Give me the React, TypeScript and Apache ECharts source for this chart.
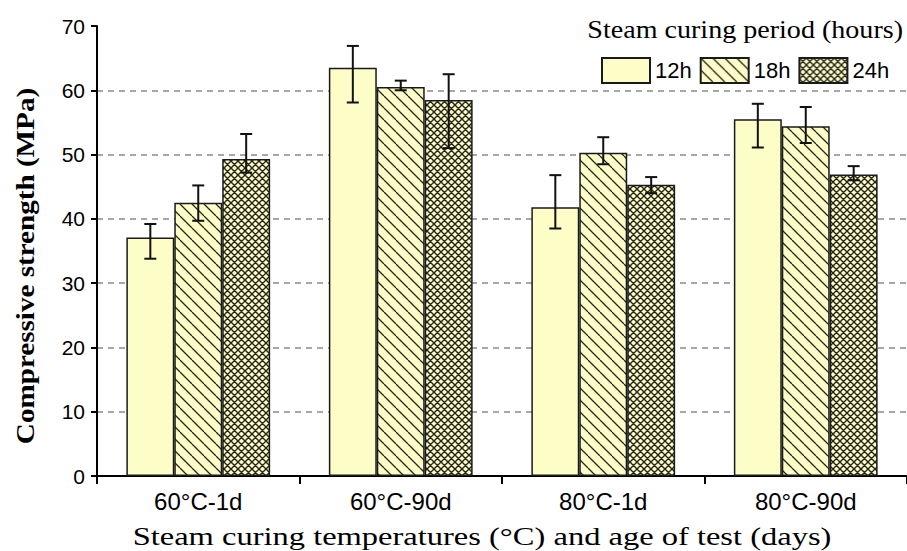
import React, { useEffect, useRef } from "react";
import * as echarts from "echarts";

const categories = ["60°C-1d", "60°C-90d", "80°C-1d", "80°C-90d"];
const seriesNames = ["12h", "18h", "24h"];
const values12 = [37.1, 63.5, 41.8, 55.5];
const low12 = [33.8, 58.1, 38.5, 51.1];
const high12 = [39.2, 66.9, 46.8, 57.9];
const values18 = [42.5, 60.5, 50.3, 54.4];
const low18 = [39.7, 60.0, 48.5, 51.8];
const high18 = [45.2, 61.5, 52.7, 57.4];
const values24 = [49.3, 58.5, 45.3, 46.9];
const low24 = [47.2, 51.0, 44.0, 46.0];
const high24 = [53.2, 62.5, 46.5, 48.2];
const yTicks = [0, 10, 20, 30, 40, 50, 60, 70];

const BASE = "#FDFDC8";
const CAT_GAP = 0.29;

function makeHatch(size: number, cross: boolean, lw: number) {
  const c = document.createElement("canvas");
  c.width = size;
  c.height = size;
  const ctx = c.getContext("2d")!;
  ctx.fillStyle = BASE;
  ctx.fillRect(0, 0, size, size);
  ctx.strokeStyle = "#26261e";
  ctx.lineWidth = lw;
  ctx.beginPath();
  for (const k of [-1, 0, 1]) {
    ctx.moveTo(k * size, 0);
    ctx.lineTo(k * size + size, size);
    if (cross) {
      ctx.moveTo(k * size + size, 0);
      ctx.lineTo(k * size, size);
    }
  }
  ctx.stroke();
  return c;
}

export default function App() {
  const ref = useRef<HTMLDivElement>(null);
  useEffect(() => {
    if (!ref.current) return;
    const chart = echarts.init(ref.current, undefined, { renderer: "svg" });
    const hatch18 = makeHatch(12, false, 1.3);
    const hatch24 = makeHatch(7, true, 1.4);
    const fills: any[] = [
      BASE,
      { image: hatch18, repeat: "repeat" },
      { image: hatch24, repeat: "repeat" },
    ];
    const vals = [values12, values18, values24];
    const lows = [low12, low18, low24];
    const highs = [high12, high18, high24];

    const barSeries = seriesNames.map((name, i) => ({
      name,
      type: "bar",
      data: vals[i],
      barGap: "0%",
      barCategoryGap: CAT_GAP * 100 + "%",
      itemStyle: { color: fills[i], borderColor: "#1a1a1a", borderWidth: 1.5 },
      z: 2,
    }));

    const errSeries = seriesNames.map((name, i) => ({
      name: name + "-err",
      type: "custom",
      z: 5,
      data: categories.map((_, j) => [j, lows[i][j], highs[i][j]]),
      renderItem: (params: any, api: any) => {
        const cat = api.value(0);
        const base = api.coord([cat, 0]);
        const band = api.size([1, 0])[0];
        const barW = (band * (1 - CAT_GAP)) / 3;
        const cx = base[0] + (i - 1) * barW;
        const yl = api.coord([cat, api.value(1)])[1];
        const yh = api.coord([cat, api.value(2)])[1];
        const cap = 6;
        const st = { stroke: "#111", lineWidth: 2 };
        return {
          type: "group",
          children: [
            { type: "line", shape: { x1: cx, y1: yl, x2: cx, y2: yh }, style: st },
            { type: "line", shape: { x1: cx - cap, y1: yl, x2: cx + cap, y2: yl }, style: st },
            { type: "line", shape: { x1: cx - cap, y1: yh, x2: cx + cap, y2: yh }, style: st },
          ],
        };
      },
    }));

    chart.setOption({
      animation: false,
      grid: { left: 97, top: 26, right: -5, bottom: 75 },
      legend: {
        data: seriesNames,
        left: 601,
        top: 57,
        padding: 0,
        itemWidth: 48,
        itemHeight: 25,
        itemGap: 8,
        icon: "rect",
        textStyle: { fontSize: 22, fontFamily: "Liberation Sans", color: "#000" },
      },
      xAxis: {
        type: "category",
        data: categories,
        axisLine: { lineStyle: { color: "#000", width: 2 } },
        axisTick: { show: true, length: 8, lineStyle: { color: "#000", width: 2 } },
        axisLabel: { fontSize: 24, fontFamily: "Liberation Sans", color: "#000", margin: 13 },
      },
      yAxis: {
        type: "value",
        min: yTicks[0],
        max: yTicks[yTicks.length - 1],
        interval: 10,
        axisLine: { show: true, lineStyle: { color: "#000", width: 2 } },
        axisTick: { show: true, length: 6, lineStyle: { color: "#000", width: 2 } },
        axisLabel: { fontSize: 21, fontFamily: "Liberation Sans", color: "#000", margin: 12 },
        splitLine: {
          show: true,
          showMinLine: false,
          showMaxLine: false,
          lineStyle: { color: "#8a8a8a", width: 1.5, type: [6, 5] },
        },
      },
      graphic: [
        {
          type: "text",
          x: 903,
          y: 29,
          scaleX: 1.08,
          style: {
            text: "Steam curing period (hours)",
            font: "26px 'Liberation Serif'",
            fill: "#000",
            textAlign: "right",
            textVerticalAlign: "middle",
          },
        },
        {
          type: "text",
          x: 482,
          y: 536,
          scaleX: 1.25,
          style: {
            text: "Steam curing temperatures (°C) and age of test (days)",
            font: "26px 'Liberation Serif'",
            fill: "#000",
            textAlign: "center",
            textVerticalAlign: "middle",
          },
        },
        {
          type: "text",
          x: 25,
          y: 266,
          rotation: Math.PI / 2,
          scaleX: 1.12,
          style: {
            text: "Compressive strength (MPa)",
            font: "bold 26px 'Liberation Serif'",
            fill: "#000",
            textAlign: "center",
            textVerticalAlign: "middle",
          },
        },
      ],
      series: [...barSeries, ...errSeries],
    });
    return () => chart.dispose();
  }, []);
  return (
    <div
      ref={ref}
      style={{ position: "absolute", left: 0, top: 0, width: 907, height: 551, background: "#fff" }}
    />
  );
}
